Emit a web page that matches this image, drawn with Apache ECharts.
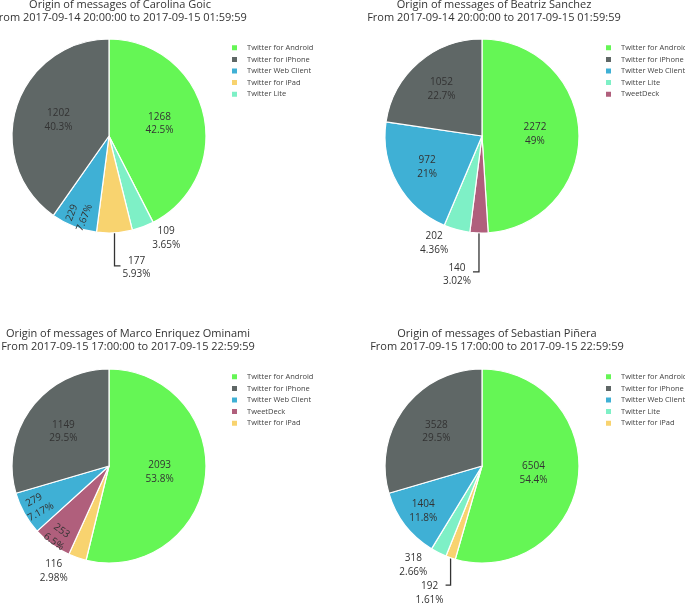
<!DOCTYPE html>
<html>
<head>
<meta charset="utf-8">
<script src="https://cdn.jsdelivr.net/npm/echarts@6/dist/echarts.min.js"></script>
<style>
html,body{margin:0;padding:0;background:#fff;}
#chart{width:685px;height:603px;}
</style>
</head>
<body>
<div id="chart"></div>
<script>
// ---------- DATA ----------
const titleCarolina = 'Origin of messages of Carolina Goic\nFrom 2017-09-14 20:00:00 to 2017-09-15 01:59:59';
const titleBeatriz = 'Origin of messages of Beatriz Sanchez\nFrom 2017-09-14 20:00:00 to 2017-09-15 01:59:59';
const titleMarco = 'Origin of messages of Marco Enriquez Ominami\nFrom 2017-09-15 17:00:00 to 2017-09-15 22:59:59';
const titleSebastian = 'Origin of messages of Sebastian Piñera\nFrom 2017-09-15 17:00:00 to 2017-09-15 22:59:59';

// slices listed clockwise from 12 o'clock
const carolinaNames = ['Twitter for Android', 'Twitter Lite', 'Twitter for iPad', 'Twitter Web Client', 'Twitter for iPhone'];
const carolinaValues = [1268, 109, 177, 229, 1202];
const carolinaLegend = ['Twitter for Android', 'Twitter for iPhone', 'Twitter Web Client', 'Twitter for iPad', 'Twitter Lite'];

const beatrizNames = ['Twitter for Android', 'TweetDeck', 'Twitter Lite', 'Twitter Web Client', 'Twitter for iPhone'];
const beatrizValues = [2272, 140, 202, 972, 1052];
const beatrizLegend = ['Twitter for Android', 'Twitter for iPhone', 'Twitter Web Client', 'Twitter Lite', 'TweetDeck'];

const marcoNames = ['Twitter for Android', 'Twitter for iPad', 'TweetDeck', 'Twitter Web Client', 'Twitter for iPhone'];
const marcoValues = [2093, 116, 253, 279, 1149];
const marcoLegend = ['Twitter for Android', 'Twitter for iPhone', 'Twitter Web Client', 'TweetDeck', 'Twitter for iPad'];

const sebastianNames = ['Twitter for Android', 'Twitter for iPad', 'Twitter Lite', 'Twitter Web Client', 'Twitter for iPhone'];
const sebastianValues = [6504, 192, 318, 1404, 3528];
const sebastianLegend = ['Twitter for Android', 'Twitter for iPhone', 'Twitter Web Client', 'Twitter Lite', 'Twitter for iPad'];

// ---------- STYLE / LAYOUT ----------
const FONT = '"Open Sans", "Noto Sans", Arial, sans-serif';
const colorMap = {
  'Twitter for Android': '#65f655',
  'Twitter for iPhone': '#5f6766',
  'Twitter Web Client': '#3fb0d5',
  'Twitter for iPad': '#f8d36f',
  'Twitter Lite': '#7ef0c6',
  'TweetDeck': '#b05f7c'
};
const PIE_R = 97;

// label placement per slice: in = radius of inside label, out = outside without line, line = outside with leader
const carolinaLabelCfg = [{ in: 49 }, { out: 12 }, { line: [33, 6], dy: 0 }, { in: 82, rot: 'radial' }, { in: 50 }];
const beatrizLabelCfg = [{ in: 50 }, { line: [39, 6], dy: 1 }, { out: 14 }, { in: 60 }, { in: 59 }];
const marcoLabelCfg = [{ in: 48 }, { out: 14 }, { in: 84, rot: -36 }, { in: 79, rot: 'radial' }, { in: 54 }];
const sebastianLabelCfg = [{ in: 49 }, { line: [29, 5], dy: 6 }, { out: 14 }, { in: 71 }, { in: 54 }];

const panels = [
  { title: titleCarolina, names: carolinaNames, values: carolinaValues, legend: carolinaLegend, labels: carolinaLabelCfg,
    center: [109, 136], titleX: 120, titleTop: -2, legendPos: [230, 42] },
  { title: titleBeatriz, names: beatrizNames, values: beatrizValues, legend: beatrizLegend, labels: beatrizLabelCfg,
    center: [482, 136], titleX: 494, titleTop: -2, legendPos: [604, 42] },
  { title: titleMarco, names: marcoNames, values: marcoValues, legend: marcoLegend, labels: marcoLabelCfg,
    center: [109, 466], titleX: 128, titleTop: 327, legendPos: [230, 371] },
  { title: titleSebastian, names: sebastianNames, values: sebastianValues, legend: sebastianLegend, labels: sebastianLabelCfg,
    center: [482, 466], titleX: 497, titleTop: 327, legendPos: [604, 371] }
];

const labelRich = { c: { align: 'center', fontSize: 10, lineHeight: 13.5, color: '#333', fontFamily: FONT } };

function makeFormatter(values) {
  const sum = values.reduce((a, b) => a + b, 0);
  return function (p) {
    const pct = +(p.value / sum * 100).toPrecision(3);
    return '{c|' + p.value + '}\n{c|' + pct + '%}';
  };
}

const titles = [], legends = [], mainSeries = [], overlaySeries = [];

panels.forEach(function (pn) {
  const fmt = makeFormatter(pn.values);
  titles.push({
    text: pn.title, left: pn.titleX, top: pn.titleTop, textAlign: 'center', padding: 0,
    textStyle: { fontFamily: FONT, fontSize: 11, fontWeight: 'normal', color: '#333', lineHeight: 13.5 }
  });
  legends.push({
    data: pn.legend, orient: 'vertical', left: pn.legendPos[0], top: pn.legendPos[1], padding: 0,
    icon: 'rect', itemWidth: 7, itemHeight: 7, itemGap: 0, selectedMode: false,
    textStyle: { fontFamily: FONT, fontSize: 7.5, lineHeight: 11.6, color: '#444', padding: [0, 0, 0, 4] }
  });

  // main pie with outside labels
  const mainData = pn.names.map(function (n, i) {
    const cfg = pn.labels[i];
    const item = { name: n, value: pn.values[i], itemStyle: { color: colorMap[n] } };
    if (cfg.out !== undefined) {
      item.label = { show: true, position: 'outside', distanceToLabelLine: 5 };
      item.labelLine = { show: false, length: cfg.out, length2: 0 };
    } else if (cfg.line) {
      item.label = { show: true, position: 'outside', distanceToLabelLine: 2 };
      item.labelLine = { show: true, length: cfg.line[0], length2: cfg.line[1] };
    }
    return item;
  });
  mainSeries.push({
    type: 'pie', center: pn.center, radius: PIE_R, startAngle: 90, clockwise: true,
    avoidLabelOverlap: false, silent: true, legendHoverLink: false,
    itemStyle: { borderColor: '#fff', borderWidth: 1.2 },
    emphasis: { disabled: true },
    label: { show: false, formatter: fmt, rich: labelRich },
    labelLine: { lineStyle: { color: '#333', width: 1.3 } },
    labelLayout: function (params) {
      const cfg = pn.labels[params.dataIndex];
      if (!cfg || !cfg.line || !params.labelLinePoints) return {};
      const pts = params.labelLinePoints;
      const shift = pts[0][0] - pts[1][0];
      const p1 = [pts[0][0], pts[1][1]];
      const p2 = [pts[2][0] + shift, pts[2][1]];
      return {
        x: params.labelRect.x + shift, align: 'left',
        y: params.labelRect.y + (cfg.dy || 0), verticalAlign: 'top',
        labelLinePoints: [pts[0], p1, p2]
      };
    },
    data: mainData
  });

  // transparent rings that only carry the inside labels at a given radius
  const radii = [];
  pn.labels.forEach(function (c) { if (c.in !== undefined && radii.indexOf(c.in) < 0) radii.push(c.in); });
  radii.forEach(function (R) {
    overlaySeries.push({
      type: 'pie', center: pn.center, radius: [R - 3, R + 3], startAngle: 90, clockwise: true,
      avoidLabelOverlap: false, silent: true, legendHoverLink: false,
      itemStyle: { color: 'rgba(0,0,0,0)', borderWidth: 0 },
      emphasis: { disabled: true },
      label: { show: false, position: 'inside', formatter: fmt, rich: labelRich },
      labelLine: { show: false },
      data: pn.names.map(function (n, i) {
        const cfg = pn.labels[i];
        const item = { name: n, value: pn.values[i] };
        if (cfg.in === R) {
          item.label = { show: true, position: 'inside' };
          if (cfg.rot !== undefined) item.label.rotate = cfg.rot;
        }
        return item;
      })
    });
  });
});

const chart = echarts.init(document.getElementById('chart'), null, { renderer: 'canvas' });
chart.setOption({
  animation: false,
  backgroundColor: '#fff',
  title: titles,
  legend: legends,
  series: mainSeries.concat(overlaySeries)
});
</script>
</body>
</html>
